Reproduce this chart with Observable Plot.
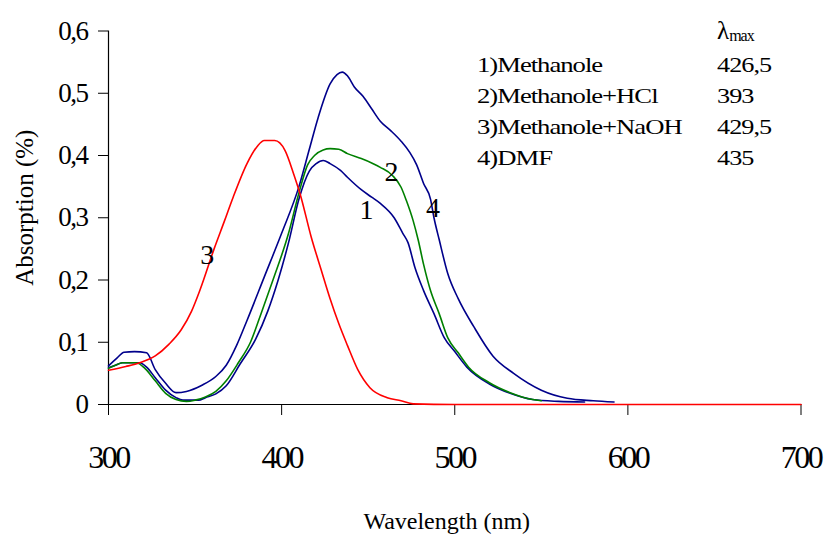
<!DOCTYPE html>
<html>
<head>
<meta charset="utf-8">
<script src="https://cdn.jsdelivr.net/npm/d3@7"></script>
<script src="https://cdn.jsdelivr.net/npm/@observablehq/plot@0.6"></script>
<style>
  body { margin: 0; background: #fff; }
  #wrap { position: relative; width: 827px; height: 537px; overflow: hidden; }
  #wrap svg { font-family: "Liberation Serif", "Times New Roman", Times, serif; }
  g[aria-label^="x-axis"] text { font-size: 32px; letter-spacing: -2.5px; }
  g[aria-label^="y-axis"] text { font-size: 27px; letter-spacing: -1.5px; }
  .lg { position: absolute; font-family: "Liberation Serif", "Times New Roman", Times, serif; color: #000; white-space: nowrap; }
  #lambda { left: 717px; top: 16px; font-size: 25px; line-height: 30px; }
  #lambda sub { font-size: 16px; vertical-align: baseline; position: relative; top: 2px; letter-spacing: -1px; }
  #lgNames { left: 477px; top: 50px; font-size: 21px; line-height: 31px; transform: scaleX(1.27); transform-origin: left top; letter-spacing: -0.8px; }
  #lgVals { left: 717px; top: 50px; font-size: 21px; line-height: 31px; transform: scaleX(1.25); transform-origin: left top; letter-spacing: -0.8px; }
</style>
</head>
<body>
<div id="wrap"></div>
<script>
// ---- data ----
const xTicks = [300, 400, 500, 600, 700];
const yTicks = [0, 0.1, 0.2, 0.3, 0.4, 0.5, 0.6];

// 1) Methanole (navy)
const wl1 = [300,304,308,318,322,327,333,339,343,352,356,362,368,376,385,392,398,404,410,416,420,424,428,434,438,446,452,457,465,470,473,477,482,488,494,500,507,520,532,545,560,575];
const ab1 = [0.059,0.063,0.067,0.067,0.06,0.043,0.023,0.011,0.007,0.007,0.011,0.017,0.03,0.065,0.105,0.15,0.2,0.26,0.33,0.375,0.387,0.392,0.387,0.376,0.365,0.345,0.333,0.323,0.30,0.275,0.26,0.22,0.183,0.146,0.107,0.085,0.06,0.033,0.018,0.008,0.005,0.004];

// 2) Methanole+HCl (green)
const wl2 = [300,304,308,316,321,327,333,339,345,350,356,362,368,375,382,388,395,404,410,415,419,424,428,433,438,446,452,457,464,469,472,476,479,482,486,491,496,502,508,520,532,545,550];
const ab2 = [0.058,0.063,0.067,0.067,0.058,0.038,0.018,0.008,0.005,0.007,0.012,0.021,0.038,0.067,0.10,0.145,0.2,0.275,0.34,0.385,0.40,0.409,0.411,0.41,0.403,0.395,0.388,0.381,0.368,0.349,0.328,0.295,0.263,0.225,0.183,0.146,0.107,0.083,0.06,0.035,0.019,0.008,0.006];

// 3) Methanole+NaOH (red)
const wl3 = [300,310,318,327,335,342,348,353,361,367,372,380,386,390,396,402,407,411,417,423,428,433,438,444,451,461,469,476,500,600,700];
const ab3 = [0.055,0.061,0.067,0.078,0.097,0.12,0.15,0.185,0.25,0.295,0.333,0.387,0.415,0.424,0.424,0.408,0.37,0.335,0.27,0.215,0.17,0.13,0.095,0.056,0.027,0.011,0.006,0.001,0,0,0];

// 4) DMF (navy)
const wl4 = [300,305,309,315,322,327,333,339,345,354,362,368,374,380,390,400,410,416,421,428,432,435,438,442,447,452,457,463,469,474,478,482,486,488,491,496,502,511,522,534,550,565,580,592];
const ab4 = [0.062,0.075,0.084,0.085,0.083,0.056,0.034,0.019,0.021,0.031,0.045,0.063,0.095,0.135,0.205,0.275,0.35,0.41,0.46,0.515,0.53,0.534,0.528,0.51,0.495,0.475,0.455,0.44,0.423,0.405,0.385,0.355,0.33,0.30,0.265,0.21,0.17,0.125,0.078,0.05,0.023,0.01,0.006,0.004];

const seriesColors = ["#00008b", "#008000", "#ff0000", "#00008b"];

// curve number labels
const labelText = ["1", "2", "3", "4"];
const labelX = [449, 463.5, 357, 487.5];
const labelY = [0.312, 0.373, 0.24, 0.315];

// legend table
const legendNames = ["1)Methanole", "2)Methanole+HCl", "3)Methanole+NaOH", "4)DMF"];
const legendLambda = ["426,5", "393", "429,5", "435"];

// ---- build ----
const toRows = (wl, ab, s) => wl.map((w, i) => ({ w, a: ab[i], s }));
const series = [toRows(wl1, ab1, 0), toRows(wl2, ab2, 1), toRows(wl3, ab3, 2), toRows(wl4, ab4, 3)];
const labels = labelText.map((t, i) => ({ t, x: labelX[i], y: labelY[i] }));

const fmtY = d => d === 0 ? "0" : d.toFixed(1).replace(".", ",");

const drawOrder = [3, 0, 1, 2];
const lineMarks = drawOrder.map(k => Plot.line(series[k], {
  x: "w", y: "a", stroke: seriesColors[k], strokeWidth: 1.6, curve: "monotone-x"
}));

const chart = Plot.plot({
  width: 827,
  height: 537,
  marginLeft: 108,
  marginRight: 26.5,
  marginTop: 30.5,
  marginBottom: 133,
  style: { background: "#fff", fontFamily: '"Liberation Serif", "Times New Roman", Times, serif', color: "#000" },
  x: { domain: [300, 700], ticks: xTicks, tickSize: 11, tickPadding: 30, label: null, tickFormat: d => String(d) },
  y: { domain: [0, 0.6], ticks: yTicks, tickSize: 10, tickPadding: 11, label: null, tickFormat: fmtY },
  marks: [
    Plot.ruleX([300], { y1: 0, y2: 0.6, stroke: "#000", strokeWidth: 1.2 }),
    Plot.ruleY([0], { x1: 300, x2: 700, stroke: "#000", strokeWidth: 1.2 }),
    ...lineMarks,
    Plot.text(labels, { x: "x", y: "y", text: "t", fontSize: 28, fill: "#000" }),
    Plot.text(["Wavelength (nm)"], { frameAnchor: "bottom", textAnchor: "middle", lineAnchor: "middle", dy: 117, dx: -8, fontSize: 24, fill: "#000" }),
    Plot.text(["Absorption (%)"], { frameAnchor: "left", textAnchor: "middle", lineAnchor: "middle", dx: -84, dy: -10, rotate: -90, fontSize: 25, fill: "#000" })
  ]
});

const wrap = document.getElementById("wrap");
wrap.appendChild(chart);

const lam = document.createElement("div");
lam.className = "lg"; lam.id = "lambda";
lam.innerHTML = "λ<sub>max</sub>";
wrap.appendChild(lam);

const names = document.createElement("div");
names.className = "lg"; names.id = "lgNames";
names.innerHTML = legendNames.map(n => `<div>${n}</div>`).join("");
wrap.appendChild(names);

const vals = document.createElement("div");
vals.className = "lg"; vals.id = "lgVals";
vals.innerHTML = legendLambda.map(n => `<div>${n}</div>`).join("");
wrap.appendChild(vals);
</script>
</body>
</html>
